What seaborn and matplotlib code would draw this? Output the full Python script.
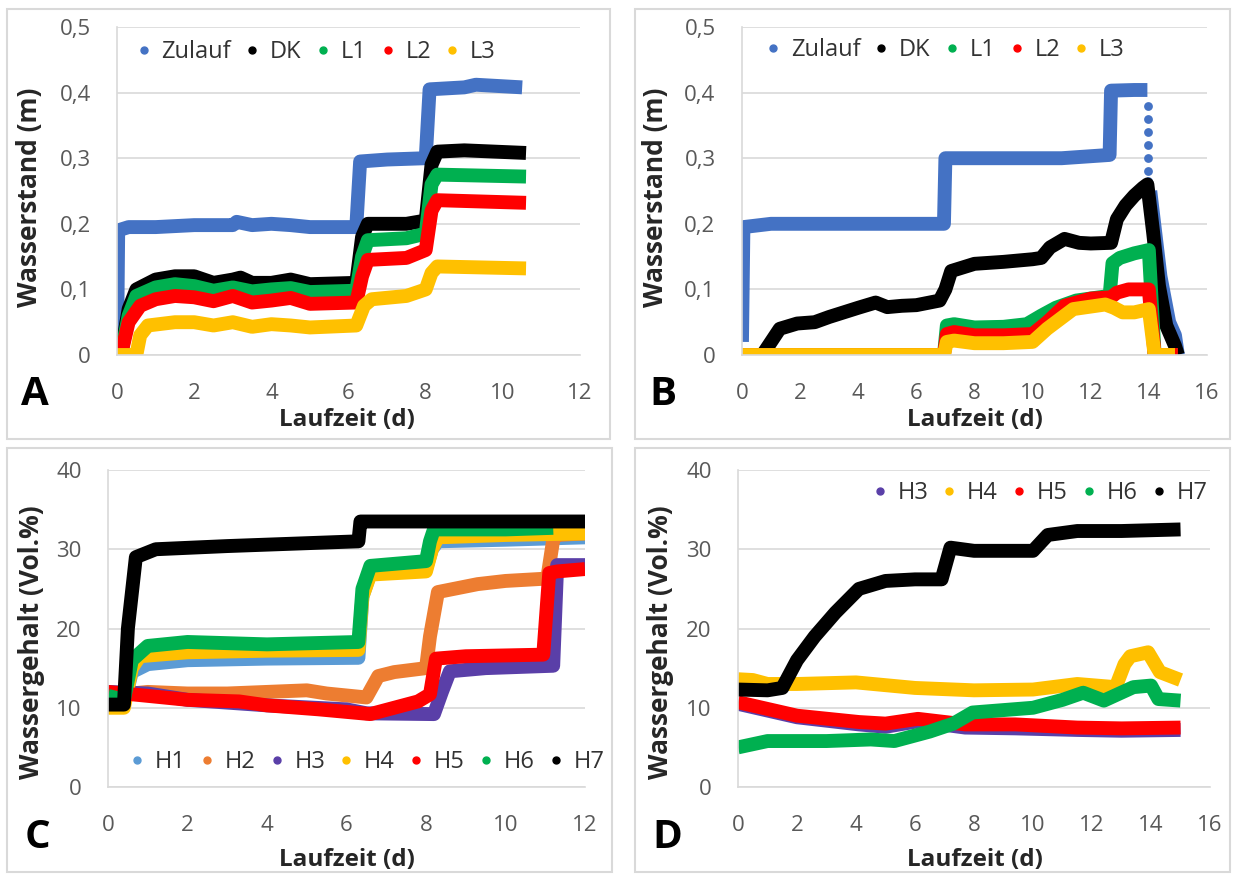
import matplotlib
matplotlib.use('Agg')
import matplotlib.pyplot as plt
import seaborn as sns
from matplotlib.lines import Line2D
from matplotlib.patches import Rectangle

# Farben (Excel-Standard)
BLUE = '#4472C4'
BLACK = '#000000'
GREEN = '#00B050'
RED = '#FF0000'
YELLOW = '#FFC000'
LBLUE = '#5B9BD5'
ORANGE = '#ED7D31'
PURPLE = '#5A3FA8'

# ---- Panel A: Wasserstand ----
a_zulauf_t = [0, 0.03, 0.3, 1, 2, 3, 3.1, 3.5, 4, 4.5, 5, 6.2, 6.3, 7, 8.0, 8.1, 9, 9.3, 10.5]
a_zulauf_v = [0.01, 0.19, 0.195, 0.195, 0.198, 0.198, 0.203, 0.198, 0.2, 0.198, 0.195, 0.195,
              0.295, 0.298, 0.30, 0.405, 0.408, 0.412, 0.408]
a_dk_t = [0.1, 0.3, 0.5, 1.0, 1.5, 2.0, 2.5, 3.0, 3.2, 3.5, 4.0, 4.5, 5.0, 6.2, 6.35, 6.5, 7.5, 8.0,
          8.15, 8.3, 9.0, 10.6]
a_dk_v = [0, 0.07, 0.10, 0.115, 0.12, 0.12, 0.11, 0.115, 0.118, 0.11, 0.11, 0.115, 0.108, 0.11,
          0.18, 0.2, 0.2, 0.205, 0.29, 0.31, 0.312, 0.308]
a_l1_t = [0.1, 0.3, 0.5, 1.0, 1.5, 2.0, 2.5, 3.0, 3.5, 4.0, 4.5, 5.0, 6.2, 6.35, 6.5, 7.5, 8.0, 8.15,
          8.3, 10.6]
a_l1_v = [0, 0.06, 0.09, 0.103, 0.108, 0.105, 0.098, 0.103, 0.097, 0.1, 0.102, 0.096, 0.098, 0.15,
          0.175, 0.178, 0.185, 0.26, 0.275, 0.272]
a_l2_t = [0.1, 0.3, 0.6, 1.0, 1.5, 2.0, 2.5, 3.0, 3.5, 4.0, 4.5, 5.0, 6.2, 6.35, 6.5, 7.5, 8.0, 8.15,
          8.3, 10.6]
a_l2_v = [0, 0.05, 0.075, 0.085, 0.09, 0.088, 0.082, 0.09, 0.08, 0.083, 0.087, 0.078, 0.08, 0.12,
          0.145, 0.148, 0.16, 0.22, 0.236, 0.232]
a_l3_t = [0, 0.5, 0.6, 0.8, 1.5, 2.0, 2.5, 3.0, 3.5, 4.0, 4.5, 5.0, 6.2, 6.4, 6.6, 7.5, 8.0, 8.15,
          8.3, 10.6]
a_l3_v = [0, 0, 0.03, 0.045, 0.05, 0.05, 0.045, 0.05, 0.043, 0.047, 0.045, 0.042, 0.045, 0.075,
          0.085, 0.09, 0.1, 0.125, 0.135, 0.132]

# ---- Panel B: Wasserstand ----
b_zulauf_t = [0, 0.05, 1, 3, 5, 6.95, 7.0, 9, 11, 12.65, 12.7, 13.5, 13.95]
b_zulauf_v = [0.02, 0.195, 0.2, 0.2, 0.2, 0.2, 0.3, 0.3, 0.3, 0.305, 0.403, 0.404, 0.404]
b_zulauf_dots_t = [13.98, 13.98, 13.98, 13.98, 13.98, 13.98, 13.98]
b_zulauf_dots_v = [0.38, 0.36, 0.34, 0.32, 0.30, 0.28, 0.265]
b_zulauf_tail_t = [14.05, 14.4, 14.7, 14.9, 15.0]
b_zulauf_tail_v = [0.25, 0.12, 0.05, 0.03, 0.0]
b_dk_t = [0, 0.7, 1.0, 1.3, 1.9, 2.5, 3.0, 3.5, 4.0, 4.6, 5.0, 5.5, 6.0, 6.8, 7.0, 7.2, 8.0, 9.0,
          10.0, 10.3, 10.6, 11.1, 11.6, 12.0, 12.7, 12.9, 13.2, 13.5, 13.8, 13.95, 14.15, 14.35,
          14.6, 14.9, 15.0]
b_dk_v = [0, 0, 0.02, 0.04, 0.048, 0.05, 0.058, 0.065, 0.072, 0.08, 0.073, 0.075, 0.076, 0.083,
          0.1, 0.128, 0.139, 0.142, 0.146, 0.148, 0.164, 0.177, 0.171, 0.17, 0.171, 0.207, 0.228,
          0.243, 0.255, 0.26, 0.186, 0.105, 0.045, 0.014, 0]
b_l1_t = [0, 6.95, 7.05, 7.3, 8.0, 9.0, 9.8, 10.3, 10.8, 11.5, 12.3, 12.65, 12.75, 13.0, 13.5,
          14.0, 14.1, 14.2, 15.0]
b_l1_v = [0, 0, 0.045, 0.047, 0.042, 0.043, 0.047, 0.06, 0.072, 0.083, 0.088, 0.09, 0.14, 0.148,
          0.155, 0.16, 0.08, 0, 0]
b_l2_t = [0, 6.95, 7.05, 7.3, 8.0, 9.0, 10.0, 10.5, 11.1, 12.0, 12.7, 12.9, 13.3, 14.0, 14.1,
          14.2, 15.0]
b_l2_v = [0, 0, 0.032, 0.035, 0.03, 0.03, 0.032, 0.05, 0.075, 0.086, 0.088, 0.095, 0.1, 0.1, 0.05,
          0, 0]
b_l3_t = [0, 6.95, 7.05, 7.3, 8.0, 9.0, 10.0, 10.5, 11.4, 12.5, 12.8, 13.1, 13.5, 14.0, 14.1,
          14.2, 14.9]
b_l3_v = [0, 0, 0.02, 0.022, 0.018, 0.018, 0.02, 0.04, 0.07, 0.077, 0.072, 0.065, 0.065, 0.07,
          0.035, 0, 0]

# ---- Panel C: Wassergehalt ----
c_h1_t = [0, 0.4, 0.6, 1.0, 2.0, 4.0, 6.3, 6.4, 6.6, 8.0, 8.15, 8.3, 10, 12]
c_h1_v = [10.5, 10.5, 14.5, 15.5, 16, 16.2, 16.3, 24, 27, 27.5, 30, 31, 31.2, 31.5]
c_h2_t = [0, 1, 2, 3, 4, 5, 5.5, 6.5, 6.8, 7.2, 8.0, 8.1, 8.3, 9.3, 10, 11.05, 11.2, 11.3, 12]
c_h2_v = [11.5, 12, 11.8, 11.8, 12, 12.2, 11.8, 11.3, 14, 14.5, 15, 19, 24.6, 25.6, 26, 26.3,
          31.2, 31.8, 32]
c_h3_t = [0, 1, 2, 4, 6, 6.5, 8.2, 8.4, 8.6, 9.5, 11.2, 11.3, 12]
c_h3_v = [12, 11.8, 11, 10.3, 9.8, 9.3, 9.2, 12, 14.6, 15, 15.3, 28, 28]
c_h4_t = [0, 0.4, 0.6, 0.8, 2, 4, 6.3, 6.4, 6.6, 8.0, 8.15, 8.3, 10, 12]
c_h4_v = [10, 10, 15, 16.5, 17, 17.2, 17.3, 24, 26.8, 27.2, 30, 31.5, 31.8, 32]
c_h5_t = [0, 1, 2, 3.3, 4, 5.3, 6.6, 7.8, 8.1, 8.25, 9, 10.95, 11.1, 11.3, 12]
c_h5_v = [12, 11.5, 11, 10.8, 10.3, 9.8, 9.2, 10.8, 11.7, 16.2, 16.5, 16.7, 27, 27.2, 27.5]
c_h6_t = [0, 0.4, 0.6, 1.0, 2.0, 4.0, 6.3, 6.4, 6.6, 8.0, 8.1, 8.2, 10, 11.2]
c_h6_v = [11.5, 11, 16, 17.8, 18.3, 18, 18.3, 25, 27.9, 28.5, 31, 32.5, 32.5, 32.7]
c_h7_t = [0, 0.4, 0.5, 0.7, 1.2, 3, 6.3, 6.35, 6.5, 9, 12]
c_h7_v = [10.4, 10.4, 20, 29, 30, 30.4, 31, 33.5, 33.5, 33.5, 33.5]

# ---- Panel D: Wassergehalt ----
d_h3_t = [0, 2, 4.1, 5, 6.1, 7.7, 9.4, 11.5, 13, 15]
d_h3_v = [10.5, 8.8, 7.9, 7.6, 8.3, 7.5, 7.4, 7.2, 7.1, 7.2]
d_h4_t = [0, 0.5, 1, 2, 4, 6, 8, 10, 11.5, 12.8, 13.1, 13.3, 13.9, 14.3, 15]
d_h4_v = [13.6, 13.5, 13, 13, 13.2, 12.5, 12.2, 12.3, 13, 12.6, 15.5, 16.5, 17, 14.5, 13.5]
d_h5_t = [0, 2, 4.1, 5, 6.1, 7.7, 9.4, 11.5, 13, 15]
d_h5_v = [10.7, 9.0, 8.2, 8.0, 8.6, 7.9, 7.9, 7.5, 7.4, 7.5]
d_h6_t = [0, 1, 3, 4.5, 5.3, 6.5, 7.3, 7.95, 10, 11, 11.7, 12.4, 13.4, 14.0, 14.25, 15]
d_h6_v = [5, 5.8, 5.8, 6.0, 5.8, 7.0, 8.0, 9.4, 10, 11, 11.9, 10.9, 12.6, 12.8, 11.1, 10.9]
d_h7_t = [0, 1, 1.5, 2, 2.6, 3.3, 4.1, 5, 6, 6.9, 7.2, 8, 10, 10.5, 11.5, 13, 15]
d_h7_v = [12.3, 12.2, 12.5, 16, 19, 22, 25, 26, 26.2, 26.2, 30.2, 29.8, 29.8, 31.8, 32.3, 32.3, 32.5]

sns.set_style('white')
plt.rcParams['font.family'] = ['Open Sans', 'DejaVu Sans']

TICK_C = '#595959'
GRID_C = '#d9d9d9'
LW = 10

fig = plt.figure(figsize=(12.36, 8.77), dpi=100)


def draw(ax, t, v, color):
    sns.lineplot(x=t, y=v, ax=ax, color=color, linewidth=LW, estimator=None, sort=False,
                 solid_capstyle='butt')


def style_axes(ax, xmax, ymax, ystep, ylabels):
    ax.set_xlim(0, xmax)
    ax.set_ylim(0, ymax)
    ax.set_xticks(range(0, xmax + 1, 2))
    yt = [i * ystep for i in range(len(ylabels))]
    ax.set_yticks(yt)
    ax.set_yticklabels(ylabels)
    ax.grid(axis='y', color=GRID_C, linewidth=1.2)
    ax.set_axisbelow(True)
    for s in ['top', 'right']:
        ax.spines[s].set_visible(False)
    ax.spines['left'].set_color(GRID_C)
    ax.spines['bottom'].set_color(GRID_C)
    ax.spines['left'].set_linewidth(1.2)
    ax.spines['bottom'].set_linewidth(1.2)
    ax.tick_params(length=0, labelsize=16, colors=TICK_C)
    ax.tick_params(axis='y', pad=19)
    ax.tick_params(axis='x', pad=20)
    ax.set_xlabel('')
    ax.set_ylabel('')


def add_legend(ax, names, colors, loc, anchor):
    handles = [Line2D([], [], marker='o', linestyle='', color=c, markersize=5) for c in colors]
    ax.legend(handles, names, loc=loc, bbox_to_anchor=anchor, ncol=len(names), frameon=False,
              fontsize=17, handletextpad=0.35, columnspacing=0.5, handlelength=0.8,
              labelcolor='#333333', borderaxespad=0)


w_lab = ['0', '0,1', '0,2', '0,3', '0,4', '0,5']
g_lab = ['0', '10', '20', '30', '40']

# Panel A
axA = fig.add_axes([0.0947, 0.5952, 0.3746, 0.374])
draw(axA, a_zulauf_t, a_zulauf_v, BLUE)
draw(axA, a_dk_t, a_dk_v, BLACK)
draw(axA, a_l1_t, a_l1_v, GREEN)
draw(axA, a_l2_t, a_l2_v, RED)
draw(axA, a_l3_t, a_l3_v, YELLOW)
style_axes(axA, 12, 0.5, 0.1, w_lab)
add_legend(axA, ['Zulauf', 'DK', 'L1', 'L2', 'L3'], [BLUE, BLACK, GREEN, RED, YELLOW],
           'center left', (0.017, 0.924))

# Panel B
axB = fig.add_axes([0.6003, 0.5952, 0.3762, 0.374])
draw(axB, b_zulauf_t, b_zulauf_v, BLUE)
sns.scatterplot(x=b_zulauf_dots_t, y=b_zulauf_dots_v, ax=axB, color=BLUE, s=40, linewidth=0)
draw(axB, b_zulauf_tail_t, b_zulauf_tail_v, BLUE)
draw(axB, b_dk_t, b_dk_v, BLACK)
draw(axB, b_l1_t, b_l1_v, GREEN)
draw(axB, b_l2_t, b_l2_v, RED)
draw(axB, b_l3_t, b_l3_v, YELLOW)
style_axes(axB, 16, 0.5, 0.1, w_lab)
add_legend(axB, ['Zulauf', 'DK', 'L1', 'L2', 'L3'], [BLUE, BLACK, GREEN, RED, YELLOW],
           'center left', (0.026, 0.93))

# Panel C
axC = fig.add_axes([0.0874, 0.1026, 0.3859, 0.3615])
for t, v, c in [(c_h1_t, c_h1_v, LBLUE), (c_h2_t, c_h2_v, ORANGE), (c_h3_t, c_h3_v, PURPLE),
                (c_h4_t, c_h4_v, YELLOW), (c_h5_t, c_h5_v, RED), (c_h6_t, c_h6_v, GREEN),
                (c_h7_t, c_h7_v, BLACK)]:
    draw(axC, t, v, c)
style_axes(axC, 12, 40, 10, g_lab)
add_legend(axC, ['H1', 'H2', 'H3', 'H4', 'H5', 'H6', 'H7'],
           [LBLUE, ORANGE, PURPLE, YELLOW, RED, GREEN, BLACK], 'center left', (0.021, 0.079))

# Panel D
axD = fig.add_axes([0.5971, 0.1026, 0.3819, 0.3615])
for t, v, c in [(d_h3_t, d_h3_v, PURPLE), (d_h4_t, d_h4_v, YELLOW), (d_h5_t, d_h5_v, RED),
                (d_h6_t, d_h6_v, GREEN), (d_h7_t, d_h7_v, BLACK)]:
    draw(axD, t, v, c)
style_axes(axD, 16, 40, 10, g_lab)
add_legend(axD, ['H3', 'H4', 'H5', 'H6', 'H7'], [PURPLE, YELLOW, RED, GREEN, BLACK],
           'center right', (1.015, 0.927))

# Achsentitel und Buchstaben
lab_kw = dict(fontsize=19, fontweight='bold', color='#262626', ha='center', va='center')
xlab_kw = dict(lab_kw, fontsize=17.5)
fig.text(347 / 1236, 1 - 420 / 877, 'Laufzeit (d)', **xlab_kw)
fig.text(975 / 1236, 1 - 420 / 877, 'Laufzeit (d)', **xlab_kw)
fig.text(347 / 1236, 1 - 860 / 877, 'Laufzeit (d)', **xlab_kw)
fig.text(975 / 1236, 1 - 860 / 877, 'Laufzeit (d)', **xlab_kw)
fig.text(30 / 1236, 1 - 197 / 877, 'Wasserstand (m)', rotation=90, **lab_kw)
fig.text(656 / 1236, 1 - 197 / 877, 'Wasserstand (m)', rotation=90, **lab_kw)
fig.text(32 / 1236, 1 - 642 / 877, 'Wassergehalt (Vol.%)', rotation=90, **lab_kw)
fig.text(660 / 1236, 1 - 642 / 877, 'Wassergehalt (Vol.%)', rotation=90, **lab_kw)

let_kw = dict(fontsize=29, fontweight='bold', color='black', ha='center', va='center')
fig.text(35 / 1236, 1 - 395 / 877, 'A', **let_kw)
fig.text(663 / 1236, 1 - 395 / 877, 'B', **let_kw)
fig.text(37 / 1236, 1 - 838 / 877, 'C', **let_kw)
fig.text(667 / 1236, 1 - 838 / 877, 'D', **let_kw)

# Rahmen um die Teilbilder
for x0, y0, x1, y1 in [(7, 9, 610, 439), (635, 9, 1230, 439), (7, 448, 612, 872),
                       (635, 448, 1230, 872)]:
    fig.add_artist(Rectangle((x0 / 1236, 1 - y1 / 877), (x1 - x0) / 1236, (y1 - y0) / 877,
                             transform=fig.transFigure, fill=False, edgecolor=GRID_C,
                             linewidth=1.5))

fig.savefig('out.png', dpi=100)
